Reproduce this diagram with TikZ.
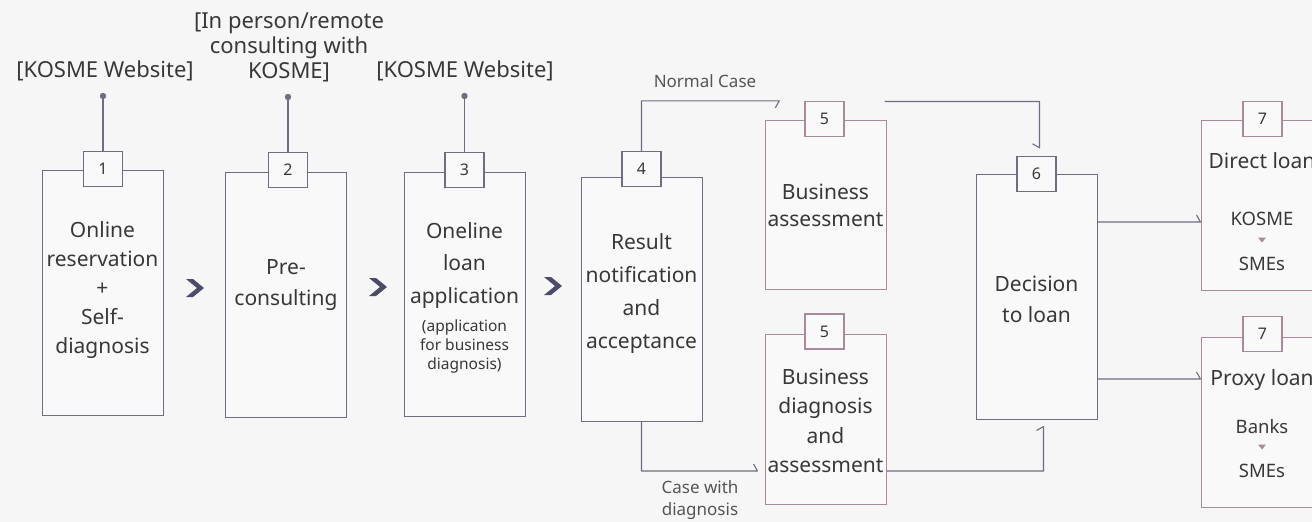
\documentclass[tikz,border=0pt]{standalone}
\usepackage{fontspec}
\setmainfont{Noto Sans}
\usetikzlibrary{arrows.meta,calc}
\definecolor{bgc}{HTML}{F6F6F7}
\definecolor{boxf}{HTML}{F9F9FA}
\definecolor{linec}{HTML}{6E6E82}
\definecolor{pinkc}{HTML}{A88A9C}
\definecolor{txtc}{HTML}{383838}
\definecolor{subc}{HTML}{555555}
\definecolor{chev}{HTML}{4C4C6A}
\newcommand\fsz[2]{\fontsize{#1}{#2}\selectfont}
\begin{document}
\begin{tikzpicture}[x=1pt,y=-1pt,
  box/.style={draw=linec, line width=1pt, fill=boxf, minimum width=121pt, inner sep=0pt},
  pbox/.style={box, draw=pinkc},
  tagbox/.style={draw=linec, line width=1.4pt, fill=boxf, minimum width=39pt, minimum height=35pt, inner sep=0pt, font=\fsz{16}{18}, text=txtc},
  ptag/.style={tagbox, draw=pinkc},
  txt/.style={align=center, text=txtc, inner sep=0pt},
  big/.style={txt, font=\fsz{21}{29}},
  lab/.style={txt, font=\fsz{22}{25}},
  small/.style={align=center, text=subc, inner sep=0pt, font=\fsz{17}{22}},
  conn/.style={draw=linec, line width=1.1pt, line join=round},
  pin/.style={draw=linec, line width=1.1pt},
]
\fill[bgc] (0,0) rectangle (1312,522);
\useasboundingbox (0,0) rectangle (1312,522);
\clip (0,0) rectangle (1312,522);

% boxes
\node[box, minimum height=245pt] (b1) at (102.5,292.5) {};
\node[box, minimum height=245pt] (b2) at (286,294.5) {};
\node[box, minimum height=244pt] (b3) at (464.5,294) {};
\node[box, minimum height=244pt] (b4) at (641.5,299) {};
\node[pbox, minimum height=169pt] (b5a) at (825.5,204.5) {};
\node[pbox, minimum height=170pt] (b5b) at (825.5,419) {};
\node[box, minimum height=245pt] (b6) at (1036.5,296.5) {};
\node[pbox, minimum height=170pt] (b7a) at (1261.5,205) {};
\node[pbox, minimum height=170pt] (b7b) at (1261.5,422) {};

% tags
\node[tagbox] (g1) at (103,169) {1};
\node[tagbox] (g2) at (288,170) {2};
\node[tagbox] (g3) at (464.5,170) {3};
\node[tagbox] (g4) at (641.5,169) {4};
\node[ptag] (g5a) at (824.5,119) {5};
\node[ptag] (g5b) at (824.5,331.5) {5};
\node[tagbox] (g6) at (1036.5,174) {6};
\node[ptag] (g7a) at (1262.5,119) {7};
\node[ptag] (g7b) at (1262.5,334) {7};

% top labels and pins
\node[lab] (l1) at (105,71) {[KOSME Website]};
\node[lab] (l2) at (289,47) {[In person/remote\\consulting with\\KOSME]};
\node[lab] (l3) at (465,71) {[KOSME Website]};
\coordinate (d1) at (103,96);
\coordinate (d2) at (288,97);
\coordinate (d3) at (464.5,96);
\draw[pin] (d1) -- (g1.north);
\draw[pin] (d2) -- (g2.north);
\draw[pin] (d3) -- (g3.north);
\fill[linec] (d1) circle (3.2);
\fill[linec] (d2) circle (3.2);
\fill[linec] (d3) circle (3.2);

% box texts
\node[big] (t1) at (102.5,290.5) {Online\\reservation\\+\\Self-\\diagnosis};
\node[big, font=\fsz{21}{31}] (t2) at (286,285.5) {Pre-\\consulting};
\node[big, font=\fsz{21}{32.5}] (t3) at (464.5,265.5) {Oneline\\loan\\application};
\node[txt, font=\fsz{15.5}{19}] (t3s) at (464.5,346) {(application\\for business\\diagnosis)};
\node[big, font=\fsz{21}{33}] (t4) at (641.5,293.5) {Result\\notification\\and\\acceptance};
\node[big, font=\fsz{21}{27}] (t5a) at (825.5,205) {Business\\assessment};
\node[big, font=\fsz{21}{29.5}] (t5b) at (825.5,421) {Business\\diagnosis\\and\\assessment};
\node[big, font=\fsz{21}{31}] (t6) at (1036.5,299) {Decision\\to loan};
\node[big] (t7a) at (1262,161) {Direct loan};
\node[txt, font=\fsz{18.5}{22}] (k7a) at (1262,219) {KOSME};
\node[txt, font=\fsz{18.5}{22}] (s7a) at (1262,264) {SMEs};
\node[big] (t7b) at (1262,380) {Proxy loan};
\node[txt, font=\fsz{18.5}{22}] (k7b) at (1262,427) {Banks};
\node[txt, font=\fsz{18.5}{22}] (s7b) at (1262,471) {SMEs};
\fill[pinkc] (1258,237.5) -- (1266,237.5) -- (1262,242.5) -- cycle;
\fill[pinkc] (1258,444.5) -- (1266,444.5) -- (1262,449.5) -- cycle;

% chevrons
\foreach \cx/\cy in {195/288, 378/287, 553/286}
  \fill[chev] (\cx-9,\cy-9) -- (\cx-2,\cy-9) -- (\cx+9,\cy) -- (\cx-2,\cy+9) -- (\cx-9,\cy+9) -- (\cx+2,\cy) -- cycle;

% branch labels
\node[small] (nc) at (705,81) {Normal Case};
\node[small] (cd) at (700,500) {Case with\\diagnosis};

% connectors (each ends with a one-sided barb)
\draw[conn] (g4.north) |- ([xshift=-25pt]g5a.north west) -- ++(-4,7);
\draw[conn] ([xshift=-2pt,yshift=18pt]b5a.north east) -| ([xshift=3pt,yshift=8pt]g6.north) -- ++(-7,-4);
\draw[conn] (b4.south) |- ([xshift=-7pt,yshift=-52pt]b5b.west) -- ++(-4,-7);
\draw[conn] ([yshift=-52pt]b5b.east) -| ([xshift=7pt,yshift=-7pt]b6.south) -- ++(-7,4);
\draw[conn] ([yshift=-17pt]b7a.west -| b6.east) -- ([yshift=-17pt]b7a.west) -- ++(-4,-7);
\draw[conn] ([yshift=43pt]b7b.west -| b6.east) -- ([yshift=43pt]b7b.west) -- ++(-4,-7);
\end{tikzpicture}
\end{document}
